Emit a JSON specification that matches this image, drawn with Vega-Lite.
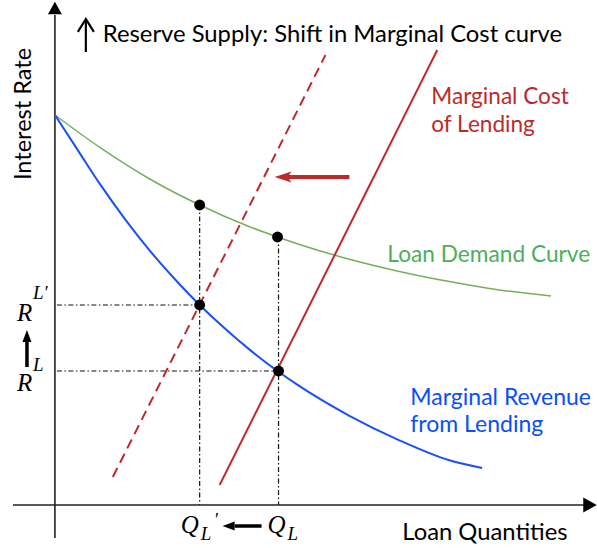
{
  "$schema": "https://vega.github.io/schema/vega-lite/v6.json",
  "width": 597,
  "height": 548,
  "padding": 0,
  "autosize": {"type": "fit", "contains": "padding"},
  "background": "white",
  "config": {"view": {"stroke": null}},
  "datasets": {
    "segments": [
      {"id": "xaxis", "q1": -42, "r1": 0, "q2": 530, "r2": 0},
      {"id": "yaxis", "q1": 0, "r1": -33, "q2": 0, "r2": 490},
      {"id": "dd", "q1": 2, "r1": 200, "q2": 145, "r2": 200},
      {"id": "dd", "q1": 2, "r1": 134, "q2": 224, "r2": 134},
      {"id": "dd", "q1": 145, "r1": 300, "q2": 145, "r2": 0},
      {"id": "dd", "q1": 224, "r1": 268, "q2": 224, "r2": 0},
      {"id": "mc", "q1": 165, "r1": 20, "q2": 383, "r2": 455},
      {"id": "mc2", "q1": 58, "r1": 28, "q2": 271, "r2": 450},
      {"id": "redarrow", "q1": 295, "r1": 328, "q2": 233, "r2": 328},
      {"id": "blackarrow", "q1": -28, "r1": 138, "q2": -28, "r2": 165},
      {"id": "blackarrow", "q1": 207, "r1": -21, "q2": 180, "r2": -21},
      {"id": "titlearrow", "q1": 31, "r1": 453, "q2": 31, "r2": 485}
    ],
    "heads": [
      {"id": "yhead", "q": 0, "r": 497},
      {"id": "xhead", "q": 536, "r": 0},
      {"id": "redhead", "q": 228.5, "r": 328},
      {"id": "uphead", "q": -28, "r": 169},
      {"id": "lefthead", "q": 174, "r": -21},
      {"id": "titlehead", "q": 31, "r": 479.6}
    ],
    "dots": [
      {"q": 145, "r": 300},
      {"q": 223, "r": 268},
      {"q": 145, "r": 200},
      {"q": 224, "r": 134}
    ],
    "curves": [
      {"series": "demand", "q": 0, "r": 390},
      {"series": "demand", "q": 45, "r": 357.6},
      {"series": "demand", "q": 95, "r": 326},
      {"series": "demand", "q": 145, "r": 300},
      {"series": "demand", "q": 195, "r": 278.3},
      {"series": "demand", "q": 223, "r": 268},
      {"series": "demand", "q": 245, "r": 260.5},
      {"series": "demand", "q": 295, "r": 245.7},
      {"series": "demand", "q": 345, "r": 233.5},
      {"series": "demand", "q": 395, "r": 223.4},
      {"series": "demand", "q": 445, "r": 215.1},
      {"series": "demand", "q": 497, "r": 209},
      {"series": "mr", "q": 0, "r": 390},
      {"series": "mr", "q": 25, "r": 351.6},
      {"series": "mr", "q": 45, "r": 321.1},
      {"series": "mr", "q": 70, "r": 286.2},
      {"series": "mr", "q": 95, "r": 254.4},
      {"series": "mr", "q": 120, "r": 226},
      {"series": "mr", "q": 145, "r": 200},
      {"series": "mr", "q": 170, "r": 176.8},
      {"series": "mr", "q": 195, "r": 155.4},
      {"series": "mr", "q": 224, "r": 133.2},
      {"series": "mr", "q": 245, "r": 118.8},
      {"series": "mr", "q": 295, "r": 89.2},
      {"series": "mr", "q": 345, "r": 64.7},
      {"series": "mr", "q": 395, "r": 44.7},
      {"series": "mr", "q": 428, "r": 37}
    ],
    "labels": [
      {"id": "title", "txt": "Reserve Supply: Shift in Marginal Cost curve", "q": 48, "r": 463},
      {"id": "xtitle", "txt": "Loan Quantities", "q": 348, "r": -35},
      {"id": "ytitle", "txt": "Interest Rate", "q": -31, "r": 391},
      {"id": "red", "txt": "Marginal Cost", "q": 377, "r": 401},
      {"id": "red", "txt": "of Lending", "q": 377, "r": 373},
      {"id": "green", "txt": "Loan Demand Curve", "q": 333, "r": 243},
      {"id": "blue", "txt": "Marginal Revenue", "q": 356, "r": 100},
      {"id": "blue", "txt": "from Lending", "q": 356, "r": 73},
      {"id": "big", "txt": "R", "q": -38, "r": 184},
      {"id": "big", "txt": "R", "q": -38, "r": 114},
      {"id": "big", "txt": "Q", "q": 126, "r": -28},
      {"id": "big", "txt": "Q", "q": 213, "r": -28},
      {"id": "sup", "txt": "L′", "q": -22, "r": 206},
      {"id": "sup", "txt": "L", "q": -22, "r": 134},
      {"id": "sup", "txt": "L", "q": 146, "r": -35},
      {"id": "sup", "txt": "L", "q": 233, "r": -35},
      {"id": "prime", "txt": "′", "q": 159, "r": -21}
    ]
  },
  "layer": [
    {
      "data": {"name": "segments"},
      "transform": [{"filter": "datum.id === 'dd'"}],
      "mark": {"type": "rule", "color": "#111111", "strokeWidth": 1.2, "strokeDash": [5, 2.5, 1.5, 2.5]},
      "encoding": {
        "x": {"field": "q1", "type": "quantitative", "scale": {"domain": [-55, 542], "nice": false, "zero": false}, "axis": null},
        "y": {"field": "r1", "type": "quantitative", "scale": {"domain": [-43, 505], "nice": false, "zero": false}, "axis": null},
        "x2": {"field": "q2"},
        "y2": {"field": "r2"}
      }
    },
    {
      "data": {"name": "segments"},
      "transform": [{"filter": "datum.id === 'xaxis' || datum.id === 'yaxis'"}],
      "mark": {"type": "rule", "color": "#222222", "strokeWidth": 1.6},
      "encoding": {
        "x": {"field": "q1", "type": "quantitative"},
        "y": {"field": "r1", "type": "quantitative"},
        "x2": {"field": "q2"},
        "y2": {"field": "r2"}
      }
    },
    {
      "data": {"name": "curves"},
      "transform": [{"filter": "datum.series === 'demand'"}],
      "mark": {"type": "line", "color": "#74b05a", "strokeWidth": 1.5, "interpolate": "monotone"},
      "encoding": {
        "x": {"field": "q", "type": "quantitative"},
        "y": {"field": "r", "type": "quantitative"}
      }
    },
    {
      "data": {"name": "curves"},
      "transform": [{"filter": "datum.series === 'mr'"}],
      "mark": {"type": "line", "color": "#1a50f5", "strokeWidth": 2, "interpolate": "monotone"},
      "encoding": {
        "x": {"field": "q", "type": "quantitative"},
        "y": {"field": "r", "type": "quantitative"}
      }
    },
    {
      "data": {"name": "segments"},
      "transform": [{"filter": "datum.id === 'mc'"}],
      "mark": {"type": "rule", "color": "#be2a2a", "strokeWidth": 2},
      "encoding": {
        "x": {"field": "q1", "type": "quantitative"},
        "y": {"field": "r1", "type": "quantitative"},
        "x2": {"field": "q2"},
        "y2": {"field": "r2"}
      }
    },
    {
      "data": {"name": "segments"},
      "transform": [{"filter": "datum.id === 'mc2'"}],
      "mark": {"type": "rule", "color": "#be2a2a", "strokeWidth": 2, "strokeDash": [10, 6]},
      "encoding": {
        "x": {"field": "q1", "type": "quantitative"},
        "y": {"field": "r1", "type": "quantitative"},
        "x2": {"field": "q2"},
        "y2": {"field": "r2"}
      }
    },
    {
      "data": {"name": "segments"},
      "transform": [{"filter": "datum.id === 'redarrow'"}],
      "mark": {"type": "rule", "color": "#be2a2a", "strokeWidth": 4},
      "encoding": {
        "x": {"field": "q1", "type": "quantitative"},
        "y": {"field": "r1", "type": "quantitative"},
        "x2": {"field": "q2"},
        "y2": {"field": "r2"}
      }
    },
    {
      "data": {"name": "segments"},
      "transform": [{"filter": "datum.id === 'blackarrow'"}],
      "mark": {"type": "rule", "color": "#000000", "strokeWidth": 3.5},
      "encoding": {
        "x": {"field": "q1", "type": "quantitative"},
        "y": {"field": "r1", "type": "quantitative"},
        "x2": {"field": "q2"},
        "y2": {"field": "r2"}
      }
    },
    {
      "data": {"name": "segments"},
      "transform": [{"filter": "datum.id === 'titlearrow'"}],
      "mark": {"type": "rule", "color": "#000000", "strokeWidth": 2.2},
      "encoding": {
        "x": {"field": "q1", "type": "quantitative"},
        "y": {"field": "r1", "type": "quantitative"},
        "x2": {"field": "q2"},
        "y2": {"field": "r2"}
      }
    },
    {
      "data": {"name": "heads"},
      "transform": [{"filter": "datum.id === 'yhead'"}],
      "mark": {"type": "point", "shape": "M0,-0.9L1,0.9L-1,0.9Z", "filled": true, "color": "#000000", "opacity": 1, "size": 196, "strokeWidth": 0},
      "encoding": {
        "x": {"field": "q", "type": "quantitative"},
        "y": {"field": "r", "type": "quantitative"}
      }
    },
    {
      "data": {"name": "heads"},
      "transform": [{"filter": "datum.id === 'xhead'"}],
      "mark": {"type": "point", "shape": "M0.9,0L-0.9,-1L-0.9,1Z", "filled": true, "color": "#000000", "opacity": 1, "size": 225, "strokeWidth": 0},
      "encoding": {
        "x": {"field": "q", "type": "quantitative"},
        "y": {"field": "r", "type": "quantitative"}
      }
    },
    {
      "data": {"name": "heads"},
      "transform": [{"filter": "datum.id === 'redhead'"}],
      "mark": {"type": "point", "shape": "M-1,0L1,-0.65L0.55,0L1,0.65Z", "filled": true, "color": "#be2a2a", "opacity": 1, "size": 289, "strokeWidth": 0},
      "encoding": {
        "x": {"field": "q", "type": "quantitative"},
        "y": {"field": "r", "type": "quantitative"}
      }
    },
    {
      "data": {"name": "heads"},
      "transform": [{"filter": "datum.id === 'uphead'"}],
      "mark": {"type": "point", "shape": "M0,-1L0.75,1L-0.75,1Z", "filled": true, "color": "#000000", "opacity": 1, "size": 144, "strokeWidth": 0},
      "encoding": {
        "x": {"field": "q", "type": "quantitative"},
        "y": {"field": "r", "type": "quantitative"}
      }
    },
    {
      "data": {"name": "heads"},
      "transform": [{"filter": "datum.id === 'lefthead'"}],
      "mark": {"type": "point", "shape": "M-1,0L1,-0.75L1,0.75Z", "filled": true, "color": "#000000", "opacity": 1, "size": 144, "strokeWidth": 0},
      "encoding": {
        "x": {"field": "q", "type": "quantitative"},
        "y": {"field": "r", "type": "quantitative"}
      }
    },
    {
      "data": {"name": "heads"},
      "transform": [{"filter": "datum.id === 'titlehead'"}],
      "mark": {"type": "point", "shape": "M-1,0.8L0,-0.8L1,0.8", "filled": false, "color": "#000000", "opacity": 1, "size": 256, "strokeWidth": 2.2},
      "encoding": {
        "x": {"field": "q", "type": "quantitative"},
        "y": {"field": "r", "type": "quantitative"}
      }
    },
    {
      "data": {"name": "dots"},
      "mark": {"type": "circle", "color": "#000000", "opacity": 1, "size": 120},
      "encoding": {
        "x": {"field": "q", "type": "quantitative"},
        "y": {"field": "r", "type": "quantitative"}
      }
    },
    {
      "data": {"name": "labels"},
      "transform": [{"filter": "datum.id === 'title' || datum.id === 'xtitle'"}],
      "mark": {"type": "text", "font": "Lato", "fontSize": 23.8, "align": "left", "baseline": "alphabetic", "color": "#000000"},
      "encoding": {
        "x": {"field": "q", "type": "quantitative"},
        "y": {"field": "r", "type": "quantitative"},
        "text": {"field": "txt"}
      }
    },
    {
      "data": {"name": "labels"},
      "transform": [{"filter": "datum.id === 'ytitle'"}],
      "mark": {"type": "text", "font": "Lato", "fontSize": 23.5, "align": "center", "baseline": "middle", "angle": 270, "color": "#000000"},
      "encoding": {
        "x": {"field": "q", "type": "quantitative"},
        "y": {"field": "r", "type": "quantitative"},
        "text": {"field": "txt"}
      }
    },
    {
      "data": {"name": "labels"},
      "transform": [{"filter": "datum.id === 'red'"}],
      "mark": {"type": "text", "font": "Lato", "fontSize": 22.6, "align": "left", "baseline": "alphabetic", "color": "#be2a2a"},
      "encoding": {
        "x": {"field": "q", "type": "quantitative"},
        "y": {"field": "r", "type": "quantitative"},
        "text": {"field": "txt"}
      }
    },
    {
      "data": {"name": "labels"},
      "transform": [{"filter": "datum.id === 'green'"}],
      "mark": {"type": "text", "font": "Lato", "fontSize": 22.7, "align": "left", "baseline": "alphabetic", "color": "#4caf5a"},
      "encoding": {
        "x": {"field": "q", "type": "quantitative"},
        "y": {"field": "r", "type": "quantitative"},
        "text": {"field": "txt"}
      }
    },
    {
      "data": {"name": "labels"},
      "transform": [{"filter": "datum.id === 'blue'"}],
      "mark": {"type": "text", "font": "Lato", "fontSize": 23, "align": "left", "baseline": "alphabetic", "color": "#0a4ff7"},
      "encoding": {
        "x": {"field": "q", "type": "quantitative"},
        "y": {"field": "r", "type": "quantitative"},
        "text": {"field": "txt"}
      }
    },
    {
      "data": {"name": "labels"},
      "transform": [{"filter": "datum.id === 'big'"}],
      "mark": {"type": "text", "font": "Liberation Serif", "fontStyle": "italic", "fontSize": 25, "align": "left", "baseline": "alphabetic", "color": "#000000"},
      "encoding": {
        "x": {"field": "q", "type": "quantitative"},
        "y": {"field": "r", "type": "quantitative"},
        "text": {"field": "txt"}
      }
    },
    {
      "data": {"name": "labels"},
      "transform": [{"filter": "datum.id === 'sup' || datum.id === 'prime'"}],
      "mark": {"type": "text", "font": "Liberation Serif", "fontStyle": "italic", "fontSize": 19, "align": "left", "baseline": "alphabetic", "color": "#000000"},
      "encoding": {
        "x": {"field": "q", "type": "quantitative"},
        "y": {"field": "r", "type": "quantitative"},
        "text": {"field": "txt"}
      }
    }
  ]
}
